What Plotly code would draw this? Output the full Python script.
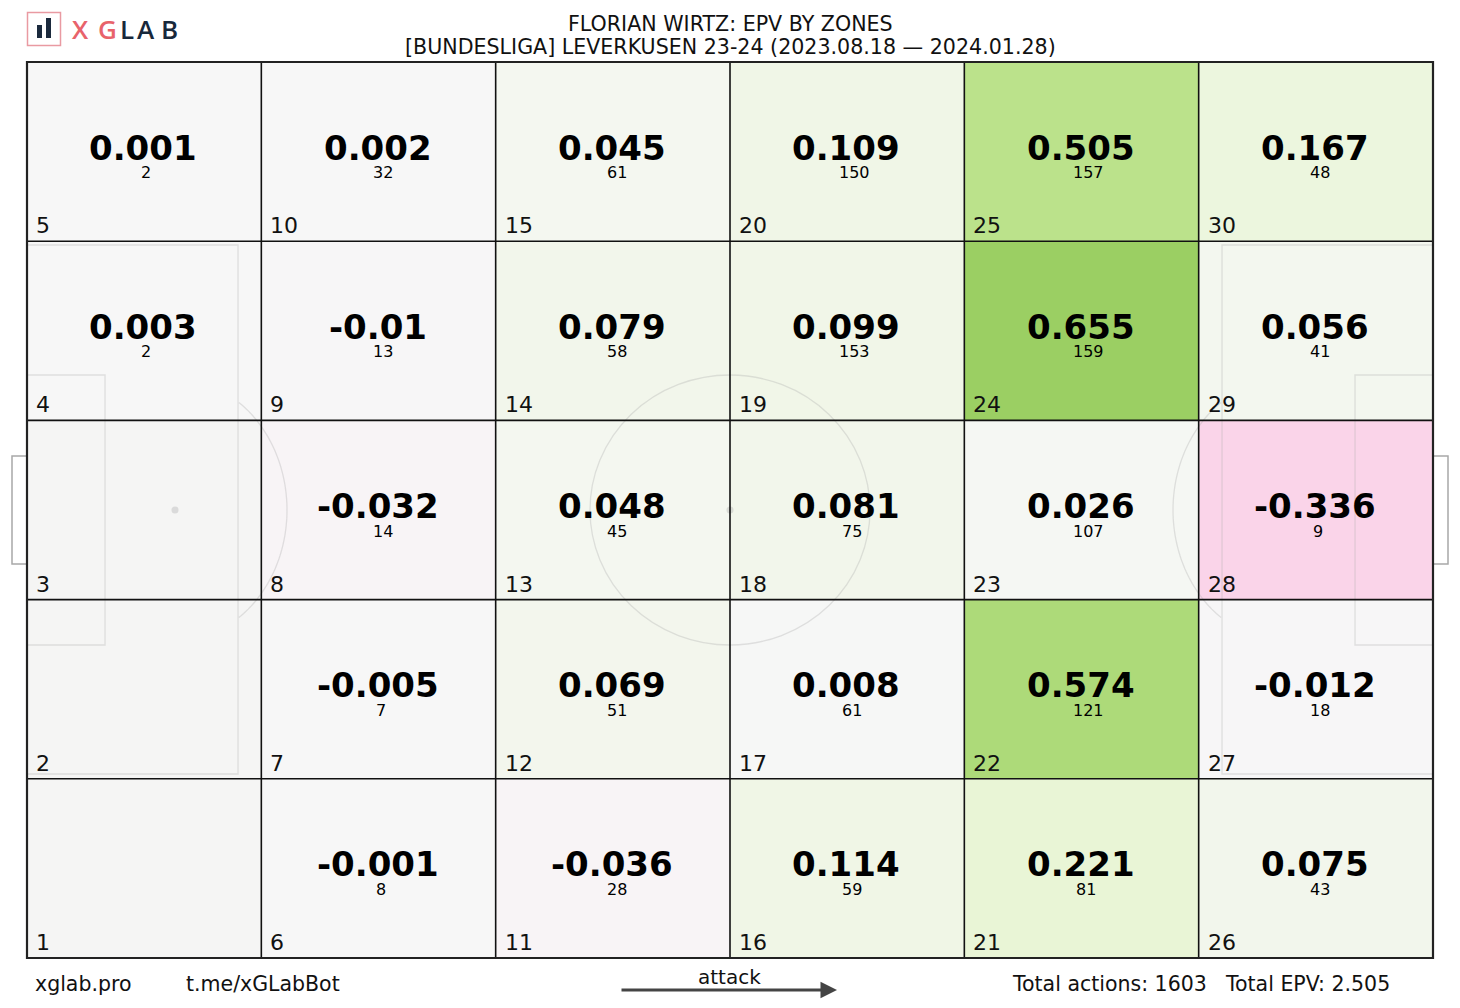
import numpy as np
import plotly.graph_objects as go

# ---------------- data ----------------
n_cols = 6
n_rows = 5
# zone number = 5*col + row + 1 (col 0 = own goal side, row 0 = bottom)
zones = list(range(1, 31))
epv = [None, None, None, 0.003, 0.001,
       -0.001, -0.005, -0.032, -0.01, 0.002,
       -0.036, 0.069, 0.048, 0.079, 0.045,
       0.114, 0.008, 0.081, 0.099, 0.109,
       0.221, 0.574, 0.026, 0.655, 0.505,
       0.075, -0.012, -0.336, 0.056, 0.167]
actions = [None, None, None, 2, 2,
           8, 7, 14, 13, 32,
           28, 51, 45, 58, 61,
           59, 61, 75, 153, 150,
           81, 121, 107, 159, 157,
           43, 18, 9, 41, 48]
title_line1 = "FLORIAN WIRTZ: EPV BY ZONES"
title_line2 = "[BUNDESLIGA] LEVERKUSEN 23-24 (2023.08.18 — 2024.01.28)"
total_actions = 1603
total_epv = 2.505

# ---------------- layout constants ----------------
W, H = 1460, 1008
L, R, T, B = 27, 1433, 62, 958
PW, PH = R - L, B - T
FONT = "DejaVu Sans"


def px(x):
    return (x - L) / PW


def py(y):
    return (B - y) / PH


z = [[epv[5 * c + r] for c in range(n_cols)] for r in range(n_rows)]
vmax = 2 * max(abs(v) for v in epv if v is not None)

fig = go.Figure()
fig.add_trace(go.Heatmap(
    z=z, x=list(range(n_cols)), y=list(range(n_rows)),
    colorscale="PiYG", zmin=-vmax, zmax=vmax, showscale=False,
    hoverinfo="skip",
))

shapes = []
pitch_col = "rgba(170,170,170,0.32)"
lw = 1.3
# penalty areas and six-yard boxes (paper coords derived from pixel measures)
for side in (0, 1):
    def X(x):
        return px(x) if side == 0 else px(L + R - x)
    shapes.append(dict(type="rect", xref="paper", yref="paper",
                       x0=X(L), x1=X(238), y0=py(774), y1=py(245),
                       line=dict(color=pitch_col, width=lw), layer="above"))
    shapes.append(dict(type="rect", xref="paper", yref="paper",
                       x0=X(L), x1=X(105), y0=py(645), y1=py(375),
                       line=dict(color=pitch_col, width=lw), layer="above"))
    # penalty spot
    sx = 175 if side == 0 else L + R - 175
    shapes.append(dict(type="circle", xref="paper", yref="paper",
                       x0=px(sx - 3.5), x1=px(sx + 3.5), y0=py(513.5), y1=py(506.5),
                       fillcolor="rgba(170,170,170,0.35)", line=dict(width=0), layer="above"))
    # penalty arc
    rx, ry = 112, 131
    t = np.linspace(-np.pi / 2, np.pi / 2, 120)
    xs = sx + (rx * np.cos(t) if side == 0 else -rx * np.cos(t))
    ys = 510 + ry * np.sin(t)
    lim = 238 if side == 0 else L + R - 238
    keep = xs > lim if side == 0 else xs < lim
    xs, ys = xs[keep], ys[keep]
    path = "M " + " L ".join(f"{px(a):.5f},{py(b):.5f}" for a, b in zip(xs, ys))
    shapes.append(dict(type="path", xref="paper", yref="paper", path=path,
                       line=dict(color=pitch_col, width=lw), layer="above"))
    # goal
    gx0, gx1 = (12, L) if side == 0 else (R, R + 15)
    shapes.append(dict(type="rect", xref="paper", yref="paper",
                       x0=px(gx0), x1=px(gx1), y0=py(564), y1=py(456),
                       line=dict(color="#a8a8a8", width=1.5), layer="above"))

# centre circle and spot
shapes.append(dict(type="circle", xref="paper", yref="paper",
                   x0=px(590), x1=px(870), y0=py(645), y1=py(375),
                   line=dict(color=pitch_col, width=lw), layer="above"))
shapes.append(dict(type="circle", xref="paper", yref="paper",
                   x0=px(730 - 3.5), x1=px(730 + 3.5), y0=py(513.5), y1=py(506.5),
                   fillcolor="rgba(170,170,170,0.35)", line=dict(width=0), layer="above"))

# zone grid
for c in range(1, n_cols):
    shapes.append(dict(type="line", xref="x", yref="y", x0=c - 0.5, x1=c - 0.5,
                       y0=-0.5, y1=n_rows - 0.5, line=dict(color="#111", width=1.6), layer="above"))
for r in range(1, n_rows):
    shapes.append(dict(type="line", xref="x", yref="y", x0=-0.5, x1=n_cols - 0.5,
                       y0=r - 0.5, y1=r - 0.5, line=dict(color="#111", width=1.6), layer="above"))
shapes.append(dict(type="rect", xref="paper", yref="paper", x0=0, x1=1, y0=0, y1=1,
                   line=dict(color="#222", width=2.2), layer="above"))

# logo
shapes.append(dict(type="rect", xref="paper", yref="paper",
                   x0=px(27.5), x1=px(60.5), y0=py(45.5), y1=py(12.5),
                   line=dict(color="#e99aa2", width=1.5)))
shapes.append(dict(type="rect", xref="paper", yref="paper",
                   x0=px(37), x1=px(42), y0=py(38), y1=py(25),
                   fillcolor="#1b2a3d", line=dict(width=0)))
shapes.append(dict(type="rect", xref="paper", yref="paper",
                   x0=px(46), x1=px(51), y0=py(38), y1=py(18),
                   fillcolor="#1b2a3d", line=dict(width=0)))

annotations = []
for c in range(n_cols):
    for r in range(n_rows):
        i = 5 * c + r
        zone = zones[i]
        annotations.append(dict(x=c - 0.5, y=r - 0.5, xref="x", yref="y",
                                text=str(zone), showarrow=False,
                                xanchor="left", yanchor="bottom", xshift=7, yshift=1,
                                font=dict(family=FONT, size=22, color="#111")))
        if epv[i] is None:
            continue
        annotations.append(dict(x=c, y=r, xref="x", yref="y",
                                text=f"<b>{round(epv[i], 3)}</b>", showarrow=False,
                                xanchor="center", yanchor="middle", yshift=4, xshift=-1,
                                font=dict(family=FONT, size=34, color="#000")))
        nd = len(str(actions[i]))
        annotations.append(dict(x=c, y=r, xref="x", yref="y",
                                text=str(actions[i]), showarrow=False,
                                xanchor="center", yanchor="middle", yshift=-21,
                                xshift=2 + 2.5 * (nd - 1),
                                font=dict(family=FONT, size=16, color="#000")))

# titles
annotations.append(dict(x=0.5, y=py(24), xref="paper", yref="paper", text=title_line1,
                        showarrow=False, xanchor="center", yanchor="middle",
                        font=dict(family=FONT, size=20.6, color="#111")))
annotations.append(dict(x=0.5, y=py(47), xref="paper", yref="paper", text=title_line2,
                        showarrow=False, xanchor="center", yanchor="middle",
                        font=dict(family=FONT, size=20.6, color="#111")))

# logo text
logo_letters = ["X", "G", "L", "A", "B"]
logo_x = [80, 107, 126.5, 145.5, 169]
logo_colors = ["#e8636b", "#e8636b", "#18283b", "#18283b", "#18283b"]
for ch, lx, col in zip(logo_letters, logo_x, logo_colors):
    annotations.append(dict(x=px(lx), y=py(28.5), xref="paper", yref="paper", text=ch,
                            showarrow=False, xanchor="center", yanchor="middle",
                            font=dict(family="Open Sans", size=26, color=col, weight=600)))

# footer
foot_font = dict(family=FONT, size=20.5, color="#111")
annotations.append(dict(x=px(33), y=py(984), xref="paper", yref="paper", text="xglab.pro",
                        showarrow=False, xanchor="left", yanchor="middle", font=foot_font))
annotations.append(dict(x=px(184), y=py(984), xref="paper", yref="paper", text="t.me/xGLabBot",
                        showarrow=False, xanchor="left", yanchor="middle", font=foot_font))
annotations.append(dict(x=px(1010), y=py(984), xref="paper", yref="paper",
                        text=f"Total actions: {total_actions}",
                        showarrow=False, xanchor="left", yanchor="middle", font=foot_font))
annotations.append(dict(x=px(1223), y=py(984), xref="paper", yref="paper",
                        text=f"Total EPV: {total_epv}",
                        showarrow=False, xanchor="left", yanchor="middle", font=foot_font))
annotations.append(dict(x=px(729), y=py(977), xref="paper", yref="paper", text="attack",
                        showarrow=False, xanchor="center", yanchor="middle",
                        font=dict(family=FONT, size=20, color="#111")))
annotations.append(dict(x=px(837), y=py(990), xref="paper", yref="paper", text="",
                        showarrow=True, ax=-217, ay=0, arrowhead=2, arrowsize=1.1,
                        arrowwidth=3, arrowcolor="#444", standoff=0))

fig.update_layout(
    width=W, height=H, autosize=False,
    margin=dict(l=L, r=W - R, t=T, b=H - B, pad=0),
    paper_bgcolor="white", plot_bgcolor="#f5f5f4",
    xaxis=dict(range=[-0.5, n_cols - 0.5], visible=False, fixedrange=True),
    yaxis=dict(range=[-0.5, n_rows - 0.5], visible=False, fixedrange=True),
    shapes=shapes, annotations=annotations, showlegend=False,
)

fig.write_html("out.html", config={"displayModeBar": False},
               post_script="document.body.style.margin='0';document.body.style.overflow='hidden';")
